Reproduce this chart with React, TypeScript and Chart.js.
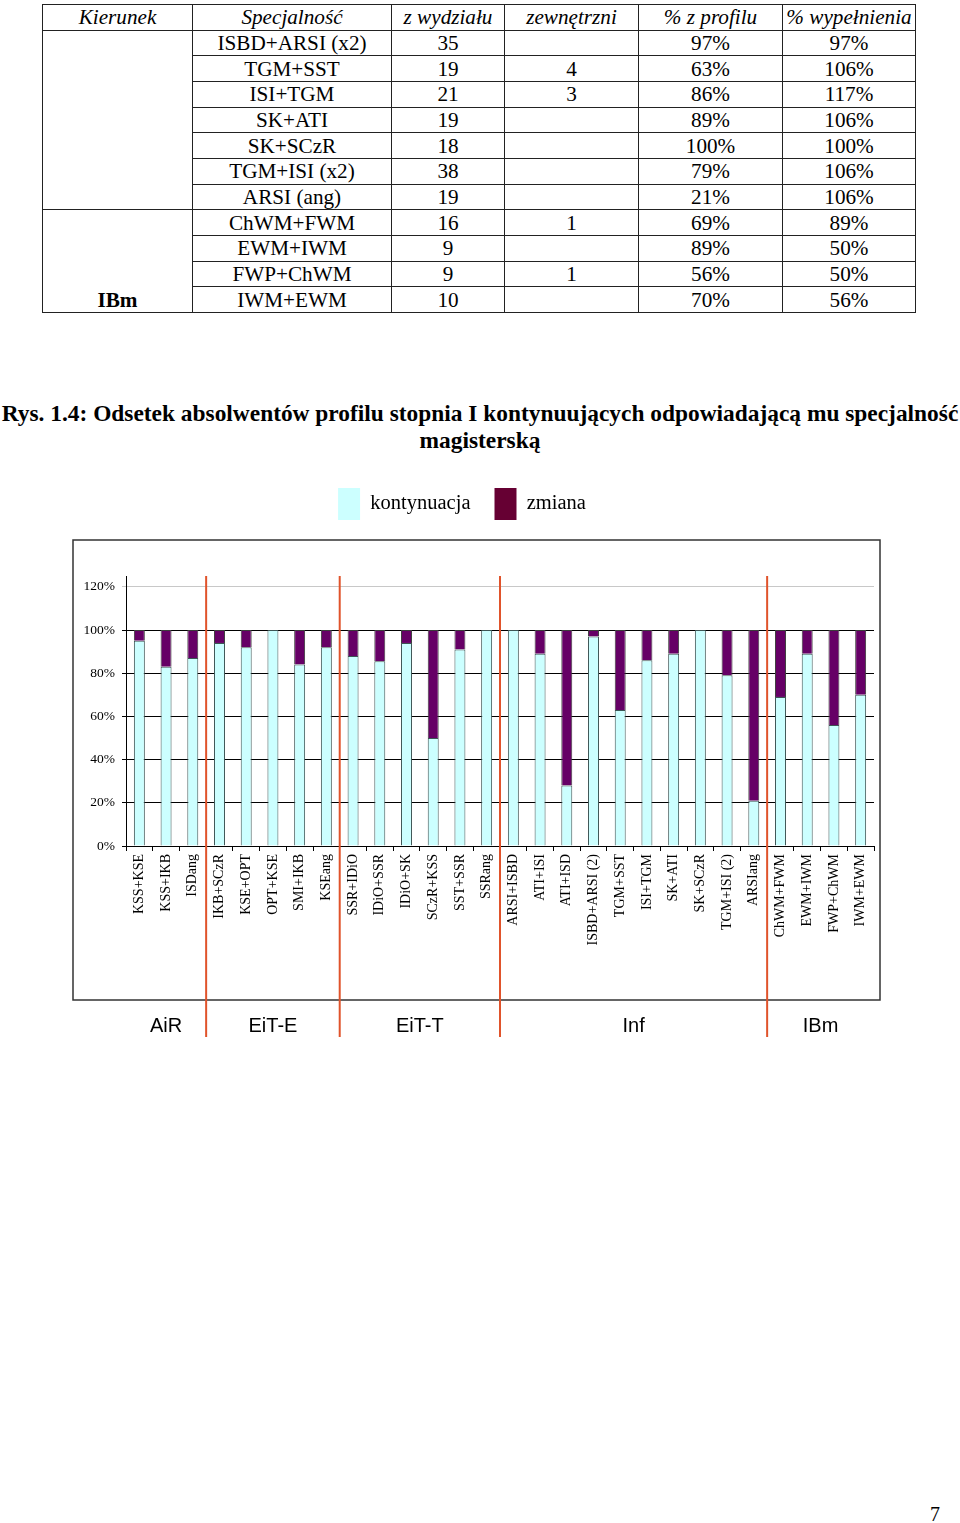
import React, { useEffect, useRef } from 'react';
import { Chart, registerables } from 'chart.js';

Chart.register(...registerables);

// ---- table data ----
const tableHeader = ['Kierunek', 'Specjalność', 'z wydziału', 'zewnętrzni', '% z profilu', '% wypełnienia'];
const tableSpecs = ['ISBD+ARSI (x2)', 'TGM+SST', 'ISI+TGM', 'SK+ATI', 'SK+SCzR', 'TGM+ISI (x2)', 'ARSI (ang)', 'ChWM+FWM', 'EWM+IWM', 'FWP+ChWM', 'IWM+EWM'];
const tableFaculty = ['35', '19', '21', '19', '18', '38', '19', '16', '9', '9', '10'];
const tableExternal = ['', '4', '3', '', '', '', '', '1', '', '1', ''];
const tableProfile = ['97%', '63%', '86%', '89%', '100%', '79%', '21%', '69%', '89%', '56%', '70%'];
const tableFill = ['97%', '106%', '117%', '106%', '100%', '106%', '106%', '89%', '50%', '50%', '56%'];

// ---- chart data ----
const categories = [
  'KSS+KSE', 'KSS+IKB', 'ISDang',
  'IKB+SCzR', 'KSE+OPT', 'OPT+KSE', 'SMI+IKB', 'KSEang',
  'SSR+IDiO', 'IDiO+SSR', 'IDiO+SK', 'SCzR+KSS', 'SST+SSR', 'SSRang',
  'ARSI+ISBD', 'ATI+ISI', 'ATI+ISD', 'ISBD+ARSI (2)', 'TGM+SST', 'ISI+TGM', 'SK+ATI', 'SK+SCzR', 'TGM+ISI (2)', 'ARSIang',
  'ChWM+FWM', 'EWM+IWM', 'FWP+ChWM', 'IWM+EWM',
];
const kontynuacja = [95, 83, 87, 94, 92, 100, 84, 92, 88, 85.5, 94, 50, 91, 100, 100, 89, 28, 97, 63, 86, 89, 100, 79, 21, 69, 89, 56, 70];
const zmiana = [5, 17, 13, 6, 8, 0, 16, 8, 12, 14.5, 6, 50, 9, 0, 0, 11, 72, 3, 37, 14, 11, 0, 21, 79, 31, 11, 44, 30];
const yTicks = [0, 20, 40, 60, 80, 100, 120];
const groupNames = ['AiR', 'EiT-E', 'EiT-T', 'Inf', 'IBm'];
const groupSizes = [3, 5, 6, 10, 4];
const seriesNames = ['kontynuacja', 'zmiana'];

const SERIF = "'Liberation Serif', 'Times New Roman', serif";
const SANS = "'Liberation Sans', Arial, sans-serif";

const decorPlugin = {
  id: 'decor',
  beforeDraw(chart: any) {
    const { ctx, chartArea } = chart;
    ctx.save();
    ctx.strokeStyle = '#333333';
    ctx.lineWidth = 1.5;
    ctx.strokeRect(chartArea.left - 53, chartArea.top - 36, chartArea.right - chartArea.left + 59, chartArea.bottom - chartArea.top + 190);
    ctx.restore();
  },
  afterDraw(chart: any) {
    const { ctx, chartArea } = chart;
    const xs = chart.scales.x;
    ctx.save();
    let start = 0;
    groupSizes.forEach((size, gi) => {
      const end = start + size - 1;
      const cx = (xs.getPixelForValue(start) + xs.getPixelForValue(end)) / 2;
      ctx.fillStyle = '#000';
      ctx.font = `20px ${SANS}`;
      ctx.textAlign = 'center';
      ctx.textBaseline = 'middle';
      ctx.fillText(groupNames[gi], cx, chartArea.bottom + 180);
      if (gi < groupSizes.length - 1) {
        const bx = (xs.getPixelForValue(end) + xs.getPixelForValue(end + 1)) / 2;
        ctx.strokeStyle = '#E0532B';
        ctx.lineWidth = 2;
        ctx.beginPath();
        ctx.moveTo(bx, chartArea.top);
        ctx.lineTo(bx, chartArea.bottom + 191);
        ctx.stroke();
      }
      start += size;
    });
    ctx.restore();
  },
};

const cellBase: React.CSSProperties = {
  border: '1px solid #222',
  padding: 0,
  textAlign: 'center',
  lineHeight: '24px',
  whiteSpace: 'nowrap',
};

export default function App() {
  const ref = useRef<HTMLCanvasElement>(null);

  useEffect(() => {
    if (!ref.current) return;
    const chart = new Chart(ref.current, {
      type: 'bar',
      data: {
        labels: categories,
        datasets: [
          {
            label: seriesNames[0],
            data: kontynuacja,
            backgroundColor: '#CCFFFF',
            borderColor: '#3d5555',
            borderWidth: 1,
          },
          {
            label: seriesNames[1],
            data: zmiana,
            backgroundColor: '#660066',
            borderColor: '#3d3d3d',
            borderWidth: 1,
          },
        ],
      },
      options: {
        animation: false,
        responsive: false,
        maintainAspectRatio: false,
        layout: { padding: { left: 50, right: 86, top: 0, bottom: 0 } },
        datasets: {
          bar: { categoryPercentage: 1, barPercentage: 0.41 },
        } as any,
        scales: {
          x: {
            stacked: true,
            offset: true,
            grid: { offset: true, drawOnChartArea: false, drawTicks: true, tickLength: 5, color: '#000' },
            border: { display: true, color: '#000', width: 1 },
            ticks: {
              autoSkip: false,
              minRotation: 90,
              maxRotation: 90,
              padding: 3,
              color: '#000',
              font: { family: SERIF, size: 14 },
            },
            afterFit: (s: any) => { s.height = 204; },
          },
          y: {
            stacked: true,
            min: 0,
            max: 125,
            afterBuildTicks: (s: any) => { s.ticks = yTicks.map((v) => ({ value: v })); },
            afterFit: (s: any) => { s.width = 76; },
            grid: {
              color: (c: any) => (c.tick && c.tick.value >= 120 ? '#c8c8c8' : '#000'),
              tickLength: 4,
            },
            border: { display: true, color: '#000', width: 1 },
            ticks: {
              padding: 7,
              color: '#000',
              font: { family: SERIF, size: 13.5 },
              callback: (v: any) => `${v}%`,
            },
          },
        },
        plugins: {
          legend: {
            display: true,
            position: 'top',
            align: 'center',
            labels: {
              boxWidth: 22,
              boxHeight: 32,
              padding: 24,
              color: '#000',
              font: { family: SERIF, size: 20.5 },
              generateLabels: (chart: any) => {
                const items = Chart.defaults.plugins.legend.labels.generateLabels(chart);
                return items.map((it: any, i: number) => ({
                  ...it,
                  fillStyle: i === 1 ? '#660033' : '#CCFFFF',
                  strokeStyle: 'rgba(0,0,0,0)',
                  lineWidth: 0,
                }));
              },
            },
          },
          title: {
            display: true,
            text: '',
            weight: 500,
            padding: { top: 36, bottom: 0 },
            font: { size: 10, lineHeight: 1 },
          } as any,
          tooltip: { enabled: false },
        },
      },
      plugins: [decorPlugin],
    });
    return () => chart.destroy();
  }, []);

  return (
    <div style={{ position: 'absolute', left: 0, top: 0, width: 960, height: 1515, fontFamily: SERIF, color: '#000' }}>
      <table
        style={{
          position: 'absolute',
          left: 42,
          top: 4,
          width: 873,
          borderCollapse: 'collapse',
          tableLayout: 'fixed',
          fontSize: '21.2px',
          fontFamily: SERIF,
        }}
      >
        <colgroup>
          <col style={{ width: 150 }} />
          <col style={{ width: 199 }} />
          <col style={{ width: 113 }} />
          <col style={{ width: 134 }} />
          <col style={{ width: 144 }} />
          <col style={{ width: 133 }} />
        </colgroup>
        <tbody>
          <tr style={{ height: '25.67px' }}>
            {tableHeader.map((h) => (
              <td key={h} style={{ ...cellBase, fontStyle: 'italic' }}>{h}</td>
            ))}
          </tr>
          {tableSpecs.map((s, i) => (
            <tr key={s} style={{ height: '25.67px' }}>
              {i === 0 && <td rowSpan={7} style={{ ...cellBase }}></td>}
              {i === 7 && (
                <td rowSpan={4} style={{ ...cellBase, verticalAlign: 'bottom', fontWeight: 'bold' }}>IBm</td>
              )}
              <td style={cellBase}>{s}</td>
              <td style={cellBase}>{tableFaculty[i]}</td>
              <td style={cellBase}>{tableExternal[i]}</td>
              <td style={cellBase}>{tableProfile[i]}</td>
              <td style={cellBase}>{tableFill[i]}</td>
            </tr>
          ))}
        </tbody>
      </table>

      <div
        style={{
          position: 'absolute',
          left: 0,
          top: 400,
          width: 960,
          textAlign: 'center',
          fontWeight: 'bold',
          fontSize: '23.4px',
          lineHeight: '27px',
          whiteSpace: 'nowrap',
        }}
      >
        Rys. 1.4: Odsetek absolwentów profilu stopnia I kontynuujących odpowiadającą mu specjalność
        <br />
        magisterską
      </div>

      <div style={{ position: 'absolute', left: 0, top: 464, width: 960, height: 586 }}>
        <canvas ref={ref} width={960} height={586} style={{ display: 'block', width: 960, height: 586 }} />
      </div>

      <div style={{ position: 'absolute', left: 930, top: 1503, fontSize: '20px', lineHeight: '22px' }}>7</div>
    </div>
  );
}
